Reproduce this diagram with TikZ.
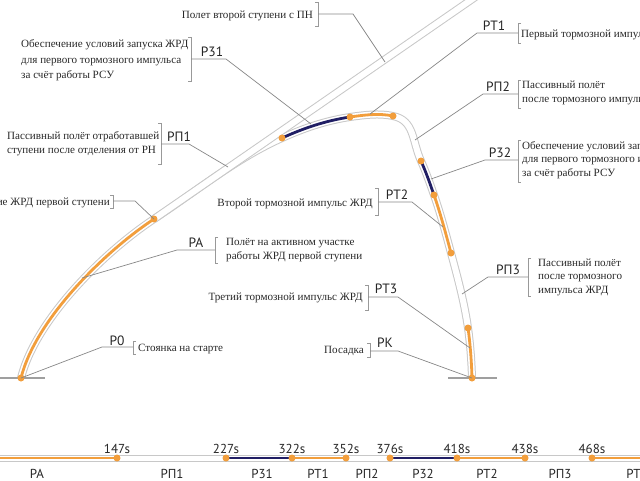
\documentclass[tikz,border=0pt]{standalone}
\usepackage{fontspec}
\setmainfont{Liberation Serif}
\newfontfamily\labfont{PT Sans}
\definecolor{orng}{RGB}{242,158,60}
\definecolor{navyb}{RGB}{32,30,100}
\definecolor{tubeg}{RGB}{200,200,200}
\definecolor{leadg}{RGB}{135,135,135}
\definecolor{txtc}{RGB}{40,40,40}
\newcommand\trjPS{.. controls (35.4,319.8) and (104,252) .. (s)}
\newcommand\trjSA{.. controls (196,191.5) and (236,158.5) .. (a)}
\newcommand\trjAB{.. controls (304,128) and (326,120.6) .. (b)}
\newcommand\trjBC{.. controls (364,115) and (379,113) .. (c)}
\newcommand\trjCD{.. controls (414.6,120.3) and (412,141) .. (d)}
\newcommand\trjDE{.. controls (426,172) and (430,183.7) .. (e)}
\newcommand\trjEF{.. controls (440.6,213.9) and (445.8,233.7) .. (f)}
\newcommand\trjFG{.. controls (457.7,277.7) and (464.4,302.7) .. (g)}
\newcommand\trjGH{.. controls (470.3,344.5) and (471.5,361.3) .. (h)}
\begin{document}
\begin{tikzpicture}[x=1pt,y=-1pt,
  tubeout/.style={draw=tubeg, line width=8pt},
  tubein/.style={draw=white, line width=6pt},
  seg/.style={line width=2.8pt},
  odot/.style={circle, fill=orng, inner sep=0pt, minimum size=7pt},
  leader/.style={draw=leadg, line width=0.7pt},
  brk/.style={draw=leadg!85, line width=0.6pt},
  ground/.style={draw=gray!75, line width=1.4pt},
  lab/.style={font=\labfont\fontsize{13.5}{15}\selectfont, inner sep=0pt, text=black!85},
  tlab/.style={font=\labfont\fontsize{13}{15}\selectfont, inner sep=0pt, text=black!85},
  txtn/.style={font=\fontsize{11.1}{14}\selectfont, inner sep=0pt, text=txtc, align=left}]
\useasboundingbox (0,0) rectangle (640,480);
\clip (0,0) rectangle (640,480);
% key points of trajectories
\coordinate (p0) at (21,378);
\coordinate (s) at (154,219);
\coordinate (a) at (282,138);
\coordinate (b) at (350,117);
\coordinate (c) at (393,116);
\coordinate (d) at (421,161);
\coordinate (e) at (434,195);
\coordinate (f) at (451,253);
\coordinate (g) at (468,328);
\coordinate (h) at (472,378);
\coordinate (top) at (484,-9);
% tubes
\draw[tubeout] (p0) \trjPS \trjSA \trjAB \trjBC \trjCD \trjDE \trjEF \trjFG \trjGH;
\draw[tubein] (p0) \trjPS \trjSA \trjAB \trjBC \trjCD \trjDE \trjEF \trjFG \trjGH;
\draw[tubeout] (s) -- (top);
\draw[tubein] (s) -- (top);
% coloured segments
\draw[seg, orng] (p0) \trjPS;
\draw[seg, navyb] (a) \trjAB;
\draw[seg, orng] (b) \trjBC;
\draw[seg, navyb] (d) \trjDE;
\draw[seg, orng] (e) \trjEF;
\draw[seg, orng] (g) \trjGH;
% ground
\coordinate (gl1) at (0,378); \coordinate (gl2) at (45,378);
\coordinate (gr1) at (448,378); \coordinate (gr2) at (497,378);
\draw[ground] (gl1) -- (gl2);
\draw[ground] (gr1) -- (gr2);
% dots
\foreach \p in {p0,s,a,b,c,d,e,f,g,h} \node[odot] (dot\p) at (\p) {};

% ---- callouts ----
% second stage
\draw[brk] (315,2) -- (318,2) -- (318,26) -- (315,26);
\node[txtn, anchor=base east] (tA) at (313,18) {Полет второй ступени с ПН};
\coordinate (kA1) at (318,14); \coordinate (kA2) at (353,14); \coordinate (kA3) at (385,62);
\draw[leader] (kA1) -- (kA2) -- (kA3);
% Р31
\draw[brk] (188,37) -- (191,37) -- (191,81) -- (188,81);
\node[txtn, anchor=west, font=\fontsize{11.1}{15.5}\selectfont] (tB) at (21,60.5) {Обеспечение условий запуска ЖРД\\для первого тормозного импульса\\за счёт работы РСУ};
\node[lab, anchor=base] (lB) at (212,56) {Р31};
\coordinate (kB1) at (191,59); \coordinate (kB2) at (226,59); \coordinate (kB3) at (311,124);
\draw[leader] (kB1) -- (kB2) -- (kB3);
% РП1
\draw[brk] (158,123) -- (161,123) -- (161,164) -- (158,164);
\node[txtn, anchor=west] (tC) at (7,144) {Пассивный полёт отработавшей\\ступени после отделения от РН};
\node[lab, anchor=base] (lC) at (179,141) {РП1};
\coordinate (kC1) at (161,144); \coordinate (kC2) at (189,144); \coordinate (kC3) at (228,167);
\draw[leader] (kC1) -- (kC2) -- (kC3);
% first stage cut-off
\draw[brk] (110,195) -- (113,195) -- (113,208) -- (110,208);
\node[txtn, anchor=base east] (tD) at (110,205) {Выключение ЖРД первой ступени};
\coordinate (kD1) at (113,201); \coordinate (kD2) at (135,201);
\draw[leader] (kD1) -- (kD2) -- (s);
% РА
\draw[brk] (218,237) -- (215,237) -- (215,263) -- (218,263);
\node[txtn, anchor=west, font=\fontsize{11.1}{13.5}\selectfont] (tE) at (226,250) {Полёт на активном участке\\работы ЖРД первой ступени};
\node[lab, anchor=base] (lE) at (196,247) {РА};
\coordinate (kE1) at (215,250); \coordinate (kE2) at (177,250); \coordinate (kE3) at (82,278);
\draw[leader] (kE1) -- (kE2) -- (kE3);
% Р0
\draw[brk] (136,341) -- (133,341) -- (133,354) -- (136,354);
\node[txtn, anchor=base west] (tF) at (138,351) {Стоянка на старте};
\node[lab, anchor=base] (lF) at (117,345) {Р0};
\coordinate (kF1) at (133,347); \coordinate (kF2) at (102,347);
\draw[leader] (kF1) -- (kF2) -- (p0);
% РТ1
\draw[brk] (521,23) -- (518,23) -- (518,43) -- (521,43);
\node[txtn, anchor=base west] (tG) at (521,37) {Первый тормозной импульс ЖРД};
\node[lab, anchor=base] (lG) at (494,30) {РТ1};
\coordinate (kG1) at (518,33); \coordinate (kG2) at (477,33); \coordinate (kG3) at (370,114);
\draw[leader] (kG1) -- (kG2) -- (kG3);
% РП2
\draw[brk] (521,80) -- (518,80) -- (518,108) -- (521,108);
\node[txtn, anchor=west] (tH) at (522,93) {Пассивный полёт\\после тормозного импульса ЖРД};
\node[lab, anchor=base] (lH) at (498,91) {РП2};
\coordinate (kH1) at (518,94); \coordinate (kH2) at (483,94); \coordinate (kH3) at (415,140);
\draw[leader] (kH1) -- (kH2) -- (kH3);
% Р32
\draw[brk] (521,140) -- (518,140) -- (518,182) -- (521,182);
\node[txtn, anchor=west, font=\fontsize{11.1}{13.5}\selectfont] (tI) at (522,160) {Обеспечение условий запуска ЖРД\\для первого тормозного импульса\\за счёт работы РСУ};
\node[lab, anchor=base] (lI) at (500,157) {Р32};
\coordinate (kI1) at (518,160); \coordinate (kI2) at (485,160); \coordinate (kI3) at (431,179);
\draw[leader] (kI1) -- (kI2) -- (kI3);
% РТ2
\draw[brk] (375,188) -- (378,188) -- (378,215) -- (375,215);
\node[txtn, anchor=base east] (tJ) at (373,206) {Второй тормозной импульс ЖРД};
\node[lab, anchor=base] (lJ) at (397,199) {РТ2};
\coordinate (kJ1) at (378,202); \coordinate (kJ2) at (412,202); \coordinate (kJ3) at (443,227);
\draw[leader] (kJ1) -- (kJ2) -- (kJ3);
% РП3
\draw[brk] (531,258) -- (528,258) -- (528,296) -- (531,296);
\node[txtn, anchor=west, font=\fontsize{11.1}{13.5}\selectfont] (tK) at (538,277) {Пассивный полёт\\после тормозного\\импульса ЖРД};
\node[lab, anchor=base] (lK) at (508,274) {РП3};
\coordinate (kK1) at (528,277); \coordinate (kK2) at (488,277); \coordinate (kK3) at (462,294);
\draw[leader] (kK1) -- (kK2) -- (kK3);
% РТ3
\draw[brk] (365,285) -- (368,285) -- (368,310) -- (365,310);
\node[txtn, anchor=base east] (tL) at (363,300) {Третий тормозной импульс ЖРД};
\node[lab, anchor=base] (lL) at (386,293) {РТ3};
\coordinate (kL1) at (368,297); \coordinate (kL2) at (398,297); \coordinate (kL3) at (470,348);
\draw[leader] (kL1) -- (kL2) -- (kL3);
% РК
\draw[brk] (367,343) -- (370,343) -- (370,357) -- (367,357);
\node[txtn, anchor=base east] (tM) at (364,353) {Посадка};
\node[lab, anchor=base] (lM) at (385,347) {РК};
\coordinate (kM1) at (370,351); \coordinate (kM2) at (398,351);
\draw[leader] (kM1) -- (kM2) -- (h);

% ---- timeline ----
\coordinate (tl0) at (-5,458); \coordinate (tl9) at (645,458);
\coordinate (t147) at (117,458); \coordinate (t227) at (226,458);
\coordinate (t322) at (292,458); \coordinate (t352) at (346,458);
\coordinate (t376) at (390,458); \coordinate (t418) at (457,458);
\coordinate (t438) at (525,458); \coordinate (t468) at (592,458);
\draw[tubeg, line width=7pt] (tl0) -- (tl9);
\draw[white, line width=5pt] (tl0) -- (tl9);
\draw[seg, orng] (tl0) -- (t147);
\draw[seg, navyb] (t227) -- (t322);
\draw[seg, orng] (t322) -- (t352);
\draw[seg, navyb] (t376) -- (t418);
\draw[seg, orng] (t418) -- (t438);
\draw[seg, orng] (t468) -- (tl9);
\foreach \p/\t in {t147/147s,t227/227s,t322/322s,t352/352s,t376/376s,t418/418s,t438/438s,t468/468s}{
  \node[odot] (d\p) at (\p) {};
  \node[tlab, anchor=base] (l\p) at ([yshift=-5pt]\p |- 0,448) {\t};
}
\foreach \x/\n [count=\i] in {37/РА,172/РП1,262/Р31,318/РТ1,367/РП2,423/Р32,487/РТ2,560/РП3,637/РТ3}
  \node[tlab, anchor=base] (seg\i) at (\x,478) {\n};
\end{tikzpicture}
\end{document}
